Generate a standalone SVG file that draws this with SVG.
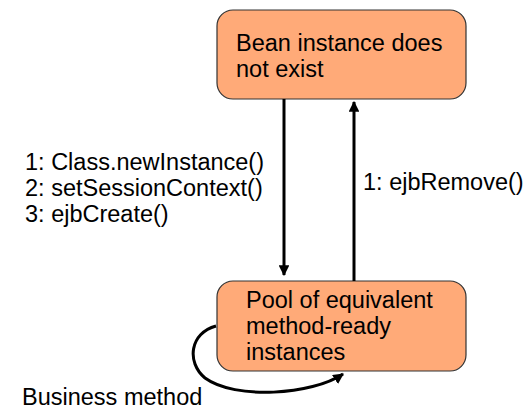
<svg xmlns="http://www.w3.org/2000/svg" width="530" height="409" viewBox="0 0 530 409">
  <style>
    .state { fill: #FFAA78; stroke: #333333; stroke-width: 1.2; }
    .label { font-family: "Liberation Sans", Arial, sans-serif; font-size: 23.5px; fill: #000000; }
    .edge { fill: none; stroke: #000000; stroke-width: 3; }
  </style>
  <defs>
    <marker id="arrow" viewBox="0 0 10 10" refX="9" refY="5" markerWidth="3.6" markerHeight="3.6" orient="auto" markerUnits="strokeWidth">
      <path d="M0,0 L10,5 L0,10 z" fill="#000000"/>
    </marker>
  </defs>

  <!-- states -->
  <g id="not-exist">
    <rect class="state" x="217" y="10" width="249" height="89" rx="16" ry="16"/>
    <text class="label" x="236" y="51">Bean instance does</text>
    <text class="label" x="236" y="77">not exist</text>
  </g>
  <g id="pool">
    <rect class="state" x="217" y="281" width="249" height="90" rx="16" ry="16"/>
    <text class="label" x="246" y="308">Pool of equivalent</text>
    <text class="label" x="246" y="334">method-ready</text>
    <text class="label" x="246" y="360">instances</text>
  </g>

  <!-- transitions -->
  <g id="connectors">
    <line class="edge" x1="284" y1="99" x2="284" y2="275" marker-end="url(#arrow)"/>
    <line class="edge" x1="354" y1="281" x2="354" y2="102" marker-end="url(#arrow)"/>
    <path class="edge" d="M216,326 C190,333 186,362 205,378 C235,400 312,395 343,374" marker-end="url(#arrow)"/>
  </g>

  <!-- transition labels -->
  <g id="labels">
    <text class="label" x="25" y="170">1: Class.newInstance()</text>
    <text class="label" x="25" y="196">2: setSessionContext()</text>
    <text class="label" x="25" y="222">3: ejbCreate()</text>
    <text class="label" x="363" y="190">1: ejbRemove()</text>
    <text class="label" x="22" y="405">Business method</text>
  </g>
</svg>
